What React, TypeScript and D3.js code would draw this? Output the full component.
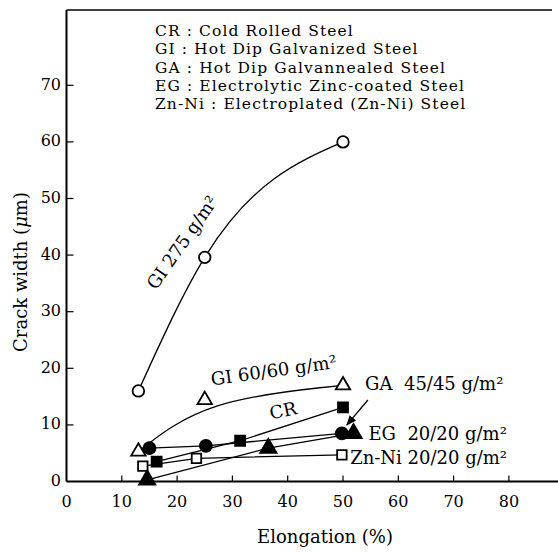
import React, { useEffect, useRef } from 'react';
import * as d3 from 'd3';

// values: [elongation %, crack width um]
const gi275 = [[13, 16], [25, 39.6], [50, 60]];
const gi6060 = [[13, 5.3], [25, 14.4], [50, 17]];
const cr = [[16.3, 3.5], [31.4, 7.2], [50, 13.1]];
const ga4545 = [[15, 5.9], [25.2, 6.3], [49.8, 8.5]];
const eg2020 = [[14.6, 0.3], [36.5, 5.9], [51.9, 8.5]];
const znni2020 = [[13.8, 2.7], [23.5, 4.1], [49.8, 4.7]];

const xTicks = [0, 10, 20, 30, 40, 50, 60, 70, 80];
const yTicks = [0, 10, 20, 30, 40, 50, 60, 70];

const legendLines = [
  'CR : Cold Rolled Steel',
  'GI : Hot Dip Galvanized Steel',
  'GA : Hot Dip Galvannealed Steel',
  'EG : Electrolytic Zinc-coated Steel',
  'Zn-Ni : Electroplated (Zn-Ni) Steel',
];

const FONT = '"DejaVu Serif", "Liberation Serif", serif';

function Chart() {
  const ref = useRef(null);

  useEffect(() => {
    const svg = d3.select(ref.current);
    svg.selectAll('*').remove();

    const x = d3.scaleLinear().domain([0, 80]).range([66.5, 508.9]);
    const y = d3.scaleLinear().domain([0, 70]).range([481.5, 85.3]);

    const g = svg.append('g').attr('font-family', FONT).attr('fill', '#000');

    // frame: left axis, top rule, bottom axis
    g.append('line').attr('x1', x(0)).attr('x2', x(0)).attr('y1', 10).attr('y2', y(0))
      .attr('stroke', '#000').attr('stroke-width', 2);
    g.append('line').attr('x1', x(0)).attr('x2', 552).attr('y1', 10).attr('y2', 10)
      .attr('stroke', '#000').attr('stroke-width', 1.6);
    g.append('line').attr('x1', x(0)).attr('x2', 558).attr('y1', y(0)).attr('y2', y(0))
      .attr('stroke', '#000').attr('stroke-width', 2);

    yTicks.forEach((t) => {
      if (t > 0) {
        g.append('line').attr('x1', x(0)).attr('x2', x(0) + 7).attr('y1', y(t)).attr('y2', y(t))
          .attr('stroke', '#000').attr('stroke-width', 1.2);
      }
      g.append('text').attr('x', 61).attr('y', y(t)).attr('text-anchor', 'end')
        .attr('dominant-baseline', 'middle').attr('font-size', 16).text(t);
    });

    xTicks.forEach((t) => {
      if (t > 0) {
        g.append('line').attr('x1', x(t)).attr('x2', x(t)).attr('y1', y(0)).attr('y2', y(0) - 6)
          .attr('stroke', '#000').attr('stroke-width', 1.2);
      }
      g.append('text').attr('x', x(t)).attr('y', 502).attr('text-anchor', 'middle')
        .attr('dominant-baseline', 'middle').attr('font-size', 16).text(t);
    });

    g.append('text').attr('x', 325).attr('y', 538).attr('text-anchor', 'middle')
      .attr('dominant-baseline', 'middle').attr('font-size', 18).text('Elongation (%)');

    const yt = g.append('text').attr('transform', 'translate(22,272) rotate(-90)')
      .attr('text-anchor', 'middle').attr('dominant-baseline', 'middle').attr('font-size', 18);
    yt.append('tspan').text('Crack width (');
    yt.append('tspan').attr('font-style', 'italic').text('\u03bc');
    yt.append('tspan').text('m)');

    legendLines.forEach((s, i) => {
      g.append('text').attr('x', 155).attr('y', 32 + i * 18.3)
        .attr('dominant-baseline', 'middle').attr('font-size', 15.5)
        .attr('letter-spacing', 1.1).text(s);
    });

    // lines
    const straight = d3.line().x((d) => x(d[0])).y((d) => y(d[1]));
    const drawPath = (data, curve) => {
      g.append('path').datum(data)
        .attr('d', d3.line().x((d) => x(d[0])).y((d) => y(d[1])).curve(curve))
        .attr('fill', 'none').attr('stroke', '#000').attr('stroke-width', 1.3);
    };
    drawPath(gi275, d3.curveMonotoneX);
    drawPath(gi6060, d3.curveBasis);
    [cr, ga4545, eg2020, znni2020].forEach((s) => {
      g.append('path').datum(s).attr('d', straight)
        .attr('fill', 'none').attr('stroke', '#000').attr('stroke-width', 1.3);
    });

    // markers
    const drawMarks = (data, type, size, filled) => {
      g.selectAll(null).data(data).enter().append('path')
        .attr('d', d3.symbol().type(type).size(size))
        .attr('transform', (d) => `translate(${x(d[0])},${y(d[1])})`)
        .attr('fill', filled ? '#000' : '#fff')
        .attr('stroke', '#000').attr('stroke-width', 1.8);
    };
    drawMarks(gi275, d3.symbolCircle, 105, false);
    drawMarks(gi6060, d3.symbolTriangle, 90, false);
    drawMarks(znni2020, d3.symbolSquare, 90, false);
    drawMarks(cr, d3.symbolSquare, 100, true);
    drawMarks(ga4545, d3.symbolCircle, 115, true);
    drawMarks(eg2020, d3.symbolTriangle, 115, true);

    // curve labels
    const label = (px, py, angle, parts, anchor) => {
      const t = g.append('text')
        .attr('transform', `translate(${x(px)},${y(py)}) rotate(${angle})`)
        .attr('text-anchor', anchor).attr('dominant-baseline', 'middle').attr('font-size', 18);
      t.text(parts);
    };
    label(21.1, 42.1, -55, 'GI 275 g/m\u00b2', 'middle');
    label(37.5, 19.4, -8, 'GI 60/60 g/m\u00b2', 'middle');
    label(39.2, 12.3, -12, 'CR', 'middle');
    label(54, 17, 0, 'GA\u00a0 45/45 g/m\u00b2', 'start');
    label(54.6, 8.2, 0, 'EG\u00a0 20/20 g/m\u00b2', 'start');
    label(51.3, 4, 0, 'Zn-Ni 20/20 g/m\u00b2', 'start');

    // arrow from GA label to GA end point
    svg.append('defs').append('marker').attr('id', 'arr')
      .attr('viewBox', '0 0 10 10').attr('refX', 9).attr('refY', 5)
      .attr('markerWidth', 8).attr('markerHeight', 8).attr('orient', 'auto')
      .append('path').attr('d', 'M0,1 L10,5 L0,9 z').attr('fill', '#000');
    g.append('line').attr('x1', x(54.5)).attr('y1', y(14.4)).attr('x2', x(50.7)).attr('y2', y(10))
      .attr('stroke', '#000').attr('stroke-width', 1.3).attr('marker-end', 'url(#arr)');
  }, []);

  return <svg ref={ref} width={558} height={552} style={{ display: 'block' }} />;
}

export default function App() {
  return (
    <div style={{ position: 'fixed', left: 0, top: 0, width: 558, height: 552, background: '#fff' }}>
      <Chart />
    </div>
  );
}
